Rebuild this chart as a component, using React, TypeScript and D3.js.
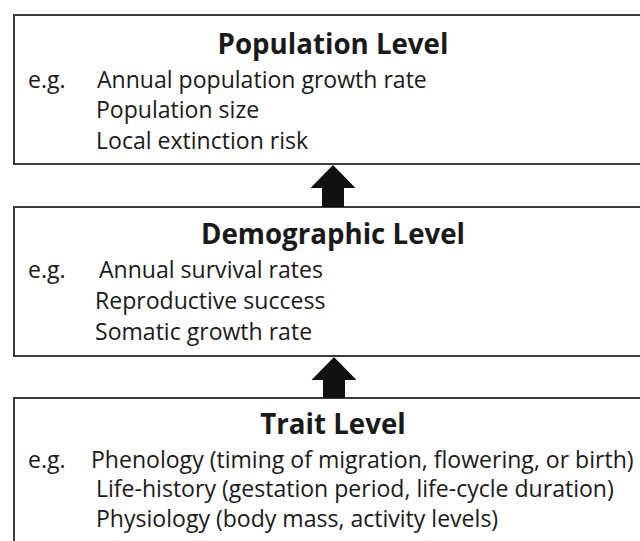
import React, { useEffect, useRef } from "react";
import * as d3 from "d3";

const levelTitles = ["Population Level", "Demographic Level", "Trait Level"];
const populationItems = [
  "Annual population growth rate",
  "Population size",
  "Local extinction risk",
];
const demographicItems = [
  "Annual survival rates",
  "Reproductive success",
  "Somatic growth rate",
];
const traitItems = [
  "Phenology (timing of migration, flowering, or birth)",
  "Life-history (gestation period, life-cycle duration)",
  "Physiology (body mass, activity levels)",
];
const examplePrefix = "e.g.";

const W = 640;
const H = 541;
const FONT = "'Open Sans', 'Noto Sans', sans-serif";
const BODY_TARGET = 543; // width of longest body line in reference
const TITLE_TARGET = 231; // width of first title in reference

// layout per box
const boxes = [
  { top: 15, bottom: 164, titleY: 54, lineYs: [88, 118, 149], xs: [97, 96, 96] },
  { top: 207, bottom: 356, titleY: 244, lineYs: [278, 309, 340], xs: [99, 95, 95] },
  { top: 398, bottom: 570, titleY: 434, lineYs: [468, 497, 527], xs: [91, 96, 96] },
];
const arrows = [
  { tipY: 165, headY: 188, baseY: 207, cx: 333 },
  { tipY: 357, headY: 380, baseY: 398, cx: 334 },
];

export default function App() {
  const ref = useRef<SVGSVGElement>(null);
  useEffect(() => {
    const svg = d3.select(ref.current);
    svg.selectAll("*").remove();
    const items = [populationItems, demographicItems, traitItems];

    // measure to fit font sizes
    const probe = svg.append("text").attr("font-family", FONT).attr("font-size", 20);
    probe.text(traitItems[0]);
    const bw = (probe.node() as SVGTextElement).getComputedTextLength();
    probe.attr("font-weight", 700).text(levelTitles[0]);
    const tw = (probe.node() as SVGTextElement).getComputedTextLength();
    probe.remove();
    const bodySize = bw > 0 ? (20 * BODY_TARGET) / bw : 22.5;
    const titleSize = tw > 0 ? (20 * TITLE_TARGET) / tw : 28;

    levelTitles.forEach((title, i) => {
      const b = boxes[i];
      const g = svg.append("g");
      g.append("rect")
        .attr("x", 14)
        .attr("y", b.top)
        .attr("width", 700)
        .attr("height", b.bottom - b.top)
        .attr("fill", "#fff")
        .attr("stroke", "#3c3c3c")
        .attr("stroke-width", 2);
      g.append("text")
        .attr("x", 333)
        .attr("y", b.titleY)
        .attr("text-anchor", "middle")
        .attr("font-family", FONT)
        .attr("font-weight", 700)
        .attr("font-size", titleSize)
        .attr("fill", "#1a1a1a")
        .text(title);
      g.append("text")
        .attr("x", 28)
        .attr("y", b.lineYs[0])
        .attr("font-family", FONT)
        .attr("font-size", bodySize)
        .attr("fill", "#1a1a1a")
        .text(examplePrefix);
      items[i].forEach((t, j) => {
        g.append("text")
          .attr("x", b.xs[j])
          .attr("y", b.lineYs[j])
          .attr("font-family", FONT)
          .attr("font-size", bodySize)
          .attr("fill", "#1a1a1a")
          .text(t);
      });
    });

    const line = d3.line();
    arrows.forEach((a) => {
      const hw = 22.5;
      const sw = 11;
      const pts: [number, number][] = [
        [a.cx, a.tipY],
        [a.cx + hw, a.headY],
        [a.cx + sw, a.headY],
        [a.cx + sw, a.baseY],
        [a.cx - sw, a.baseY],
        [a.cx - sw, a.headY],
        [a.cx - hw, a.headY],
      ];
      svg.append("path").attr("d", line(pts) + "Z").attr("fill", "#111");
    });
  }, []);

  return (
    <svg
      ref={ref}
      width={W}
      height={H}
      style={{ position: "absolute", left: 0, top: 0, background: "#fff" }}
    />
  );
}
